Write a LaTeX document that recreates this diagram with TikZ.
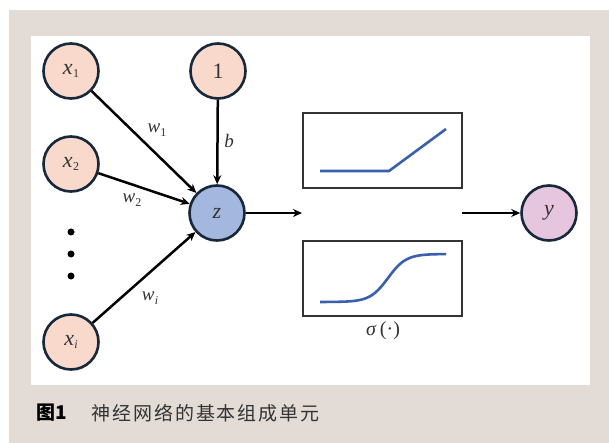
\documentclass[tikz,border=0pt]{standalone}
\usepackage{fontspec}
\setmainfont{Liberation Serif}
\newfontfamily\cjk{Noto Sans CJK SC}
\usetikzlibrary{arrows.meta}
\definecolor{panelbg}{HTML}{E3DCD6}
\definecolor{infill}{HTML}{F8D9CC}
\definecolor{zfill}{HTML}{A4B8DF}
\definecolor{yfill}{HTML}{E5C6DE}
\definecolor{ringcol}{HTML}{17283A}
\definecolor{curvecol}{HTML}{3A5FAE}
\newcommand{\sub}[1]{\kern0.3pt\raisebox{-3.5pt}{\fontsize{12}{12}\selectfont #1}}
\tikzset{
  neuron/.style={circle, draw=ringcol, line width=2.6pt, minimum size=55pt, inner sep=0pt,
                 font=\fontsize{22}{22}\selectfont, text=black!80},
  conn/.style={line width=2.5pt, -{Stealth[length=9pt,width=8pt]}},
  wlabel/.style={font=\fontsize{19}{19}\selectfont\itshape, text=black!80},
  funcbox/.style={draw=black!80, line width=1.1pt},
  curve/.style={draw=curvecol, line width=2.6pt},
  dotmark/.style={circle, fill=black, inner sep=0pt, minimum size=7pt}
}
\begin{document}
\begin{tikzpicture}[x=1pt,y=-1pt]
\useasboundingbox (0,0) rectangle (609,443);
\fill[white] (0,0) rectangle (609,443);
\fill[panelbg] (9,10) rectangle (609,443);
\fill[white] (31,36) rectangle (590,385);

\node[neuron, fill=infill] (x1) at (71,71) {\itshape x\sub{\upshape 1}};
\node[neuron, fill=infill] (one) at (218,71) {1};
\node[neuron, fill=infill] (x2) at (71,164) {\itshape x\sub{\upshape 2}};
\node[neuron, fill=infill] (xi) at (71,342) {\itshape x\sub{i}};
\node[neuron, fill=zfill] (z) at (217,213) {\itshape z};
\node[neuron, fill=yfill] (y) at (549,213) {\itshape y};

\node[dotmark] (d1) at (71,232) {};
\node[dotmark] (d2) at (71,254) {};
\node[dotmark] (d3) at (71,276) {};

\draw[conn] (x1) -- (z);
\draw[conn] (x2) -- (z);
\draw[conn] (xi) -- (z);
\draw[conn] (one) -- (z);

\node[wlabel] (w1) at (157,130) {w\sub{\upshape 1}};
\node[wlabel] (w2) at (132,200) {w\sub{\upshape 2}};
\node[wlabel] (wi) at (150,298) {w\sub{i}};
\node[wlabel] (b) at (229,141) {b};

\coordinate (zout) at (302,213);
\coordinate (yin) at (462,213);
\draw[conn] (z) -- (zout);
\draw[conn] (yin) -- (y);

\node[funcbox, minimum width=159pt, minimum height=75pt, inner sep=0pt] (relu) at (382.5,150.5) {};
\node[funcbox, minimum width=159pt, minimum height=75pt, inner sep=0pt] (sig) at (382.5,278.5) {};
\draw[curve] (320,171) -- (389,171) -- (446,129);
\draw[curve] plot[domain=320:446, samples=80, smooth] (\x, {302-48/(1+exp(-(\x-388)/9))});

\node[font=\fontsize{20}{20}\selectfont, text=black!80] (sl) at (383,331) {\textit{σ}\,(·)};

\node[anchor=west, font=\cjk\fontsize{19}{19}\selectfont\bfseries] (fig) at (33,413) {图1};
\node[anchor=west, font=\cjk\fontsize{19}{19}\selectfont, text=black!80] (cap) at (88,413) {\addfontfeature{LetterSpace=10}神经网络的基本组成单元};
\end{tikzpicture}
\end{document}
